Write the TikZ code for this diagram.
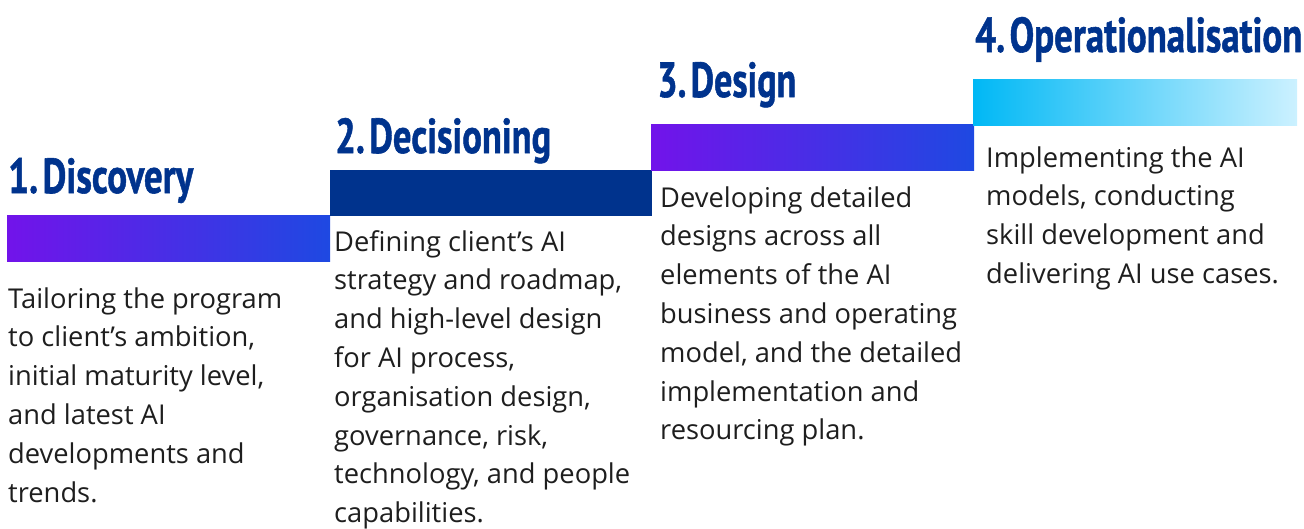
\documentclass[tikz,border=0pt]{standalone}
\usepackage{fontspec}
\usepackage{graphicx}
\newfontfamily\bodyfont{Open Sans}
\newfontfamily\headfont[BoldFeatures={FakeBold=1.2}]{PT Sans}
\definecolor{kblue}{HTML}{00338D}
\definecolor{kpurple}{HTML}{7213EA}
\definecolor{kmidblue}{HTML}{1E49E2}
\definecolor{kcyan}{HTML}{00B8F5}
\definecolor{kpale}{HTML}{CCF1FF}
\definecolor{ktext}{HTML}{1E1E1E}
% step heading: number, tight gap, title, squeezed into a fixed box
\newcommand{\stephead}[3]{\resizebox{#1}{35pt}{\headfont\bfseries #2.\hspace{0.12em}#3}}
\newcommand{\stepbody}[1]{\parbox[t]{320pt}{\raggedright\bodyfont\fontsize{27.3pt}{38.8pt}\selectfont#1}}
\tikzset{
  headlbl/.style={anchor=base west, inner sep=0pt, text=kblue},
  bodylbl/.style={anchor=base west, inner sep=0pt, text=ktext},
}
\begin{document}
\begin{tikzpicture}[x=1pt,y=-1pt]
\useasboundingbox (0,0) rectangle (1304,528);
% stair bars
\shade[left color=kpurple, right color=kmidblue] (7,215) rectangle (330,261);
\fill[kblue] (330,170) rectangle (652,215.5);
\shade[left color=kpurple, right color=kmidblue] (651,124) rectangle (974,170.5);
\shade[left color=kcyan, right color=kpale] (973,79) rectangle (1297,125);
% headings
\node[headlbl] (h1) at (8,193) {\stephead{185pt}{1}{Discovery}};
\node[headlbl] (h2) at (335,153) {\stephead{216pt}{2}{Decisioning}};
\node[headlbl] (h3) at (657,97) {\stephead{139pt}{3}{Design}};
\node[headlbl] (h4) at (975,52) {\stephead{327pt}{4}{Operationalisation}};
% descriptions
\node[bodylbl] (b1) at (8,308) {\stepbody{Tailoring the program\\to client’s ambition,\\initial maturity level,\\and latest AI\\developments and\\trends.}};
\node[bodylbl] (b2) at (334,251) {\stepbody{Defining client’s AI\\strategy and roadmap,\\and high-level design\\for AI process,\\organisation design,\\governance, risk,\\technology, and people\\capabilities.}};
\node[bodylbl] (b3) at (660,207) {\stepbody{Developing detailed\\designs across all\\elements of the AI\\business and operating\\model, and the detailed\\implementation and\\resourcing plan.}};
\node[bodylbl] (b4) at (986,167) {\stepbody{Implementing the AI\\models, conducting\\skill development and\\delivering AI use cases.}};
\end{tikzpicture}
\end{document}
